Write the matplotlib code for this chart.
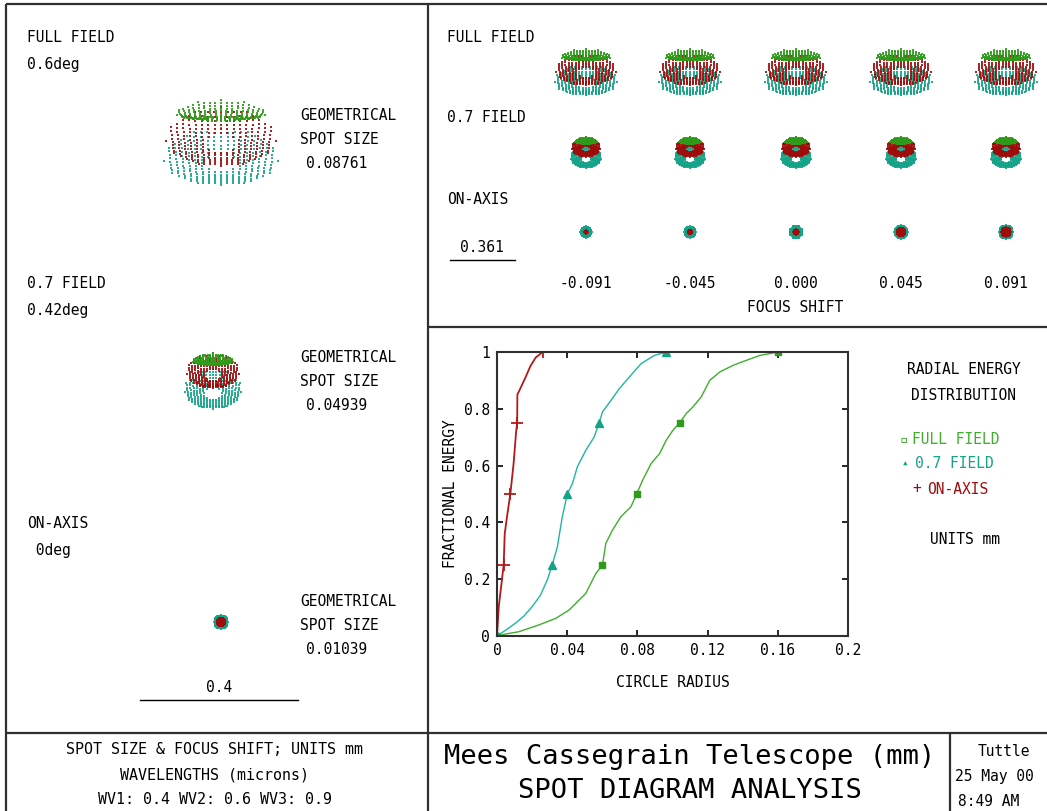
import matplotlib
matplotlib.use("Agg")
import matplotlib.pyplot as plt
import numpy as np

W, H = 1047, 811

# colours
C_GREEN = "#2e9c1a"
C_TEAL = "#14a387"
C_RED = "#a00c0c"
L_GREEN = "#3fae2a"
L_TEAL = "#22b4a4"
L_RED = "#b3191b"
FRAME = "#303030"
FONT = ["DejaVu Sans Mono", "DejaVu Sans"]

# ---- data ----
field_names = ["FULL FIELD", "0.7 FIELD", "ON-AXIS"]
field_angles = ["0.6deg", "0.42deg", " 0deg"]
spot_sizes = ["0.08761", "0.04939", "0.01039"]
focus_shift = ["-0.091", "-0.045", "0.000", "0.045", "0.091"]

# spot shape per field and wavelength: half width, half height, y offset, coma (mm)
full_green = [0.112, 0.020, 0.068, 0.010]
full_red = [0.138, 0.074, 0.002, 0.006]
full_teal = [0.144, 0.072, -0.048, 0.006]
mid_green = [0.050, 0.012, 0.046, 0.005]
mid_red = [0.066, 0.045, 0.016, 0.004]
mid_teal = [0.072, 0.050, -0.030, 0.004]
axis_green = [0.005, 0.005, 0.0, 0.0]
axis_red = [0.010, 0.010, 0.0, 0.0]
axis_teal = [0.018, 0.018, 0.0, 0.0]

# on-axis spot radii through focus (mm)
focus_axis_red = [0.007, 0.008, 0.012, 0.019, 0.021]
focus_axis_teal = [0.026, 0.028, 0.029, 0.031, 0.033]

# radial energy distribution
full_r = [0, 0.0048, 0.0124, 0.0239, 0.0334, 0.041, 0.0506, 0.0563, 0.0601, 0.062,
          0.0658, 0.0706, 0.0763, 0.0796, 0.083, 0.0878, 0.0926, 0.0964, 0.1002,
          0.104, 0.1078, 0.1117, 0.1164, 0.1212, 0.127, 0.1345, 0.1422, 0.1498, 0.1603]
full_e = [0, 0.007, 0.015, 0.039, 0.062, 0.091, 0.15, 0.22, 0.25, 0.326,
          0.373, 0.42, 0.455, 0.5, 0.549, 0.607, 0.642, 0.689, 0.724,
          0.75, 0.783, 0.807, 0.842, 0.9, 0.93, 0.953, 0.971, 0.988, 1.0]
mid_r = [0, 0.0048, 0.0105, 0.0153, 0.02, 0.0248, 0.0286, 0.0315, 0.0344, 0.0372,
         0.0401, 0.043, 0.0458, 0.0506, 0.0553, 0.0582, 0.0601, 0.065, 0.0697,
         0.0754, 0.0821, 0.0897, 0.0964]
mid_e = [0, 0.02, 0.045, 0.07, 0.103, 0.144, 0.197, 0.25, 0.314, 0.42,
         0.5, 0.537, 0.596, 0.654, 0.70, 0.75, 0.789, 0.83, 0.871,
         0.912, 0.959, 0.988, 1.0]
axis_r = [0, 0.001, 0.0038, 0.0044, 0.0057, 0.0076, 0.0095, 0.0109, 0.0115, 0.0116,
          0.0128, 0.0162, 0.019, 0.022, 0.026]
axis_e = [0, 0.103, 0.25, 0.36, 0.42, 0.5, 0.61, 0.72, 0.75, 0.85,
          0.865, 0.91, 0.95, 0.98, 1.0]

# pupil sampling: square grid inside the aperture, minus the central obscuration
g = np.linspace(-1, 1, 19)
px, py = np.meshgrid(g, g)
rr = np.hypot(px, py)
keep = (rr <= 1.0) & (rr >= 0.3)
px, py = px[keep], py[keep]


def spot(shape):
    a, b, dy, c = shape
    x = a * px + c * 2 * px * py
    cz = c * (px ** 2 + 3 * py ** 2)
    y = b * py + cz - cz.mean() + dy
    return x, y


def spot_axes(cx, cy, w, h, scale):
    ax = fig.add_axes([(cx - w / 2) / W, 1 - (cy + h / 2) / H, w / W, h / H])
    ax.set_xlim(-w / 2 / scale, w / 2 / scale)
    ax.set_ylim(-h / 2 / scale, h / 2 / scale)
    ax.axis("off")
    return ax


def draw_spot(ax, layers, s):
    # layers: list of (shape, colour) in drawing order
    for shape, col in layers:
        x, y = spot(shape)
        ax.scatter(x, y, s=s, marker="s", color=col, linewidths=0, alpha=0.9)


fig = plt.figure(figsize=(W / 100, H / 100), dpi=100)
fig.patch.set_facecolor("white")

ov = fig.add_axes([0, 0, 1, 1])
ov.set_xlim(0, W)
ov.set_ylim(H, 0)
ov.axis("off")

# frame
for (x0, x1, y0, y1) in [(6, W, 4, 4), (6, 6, 4, H), (428, 428, 4, H), (428, W, 327, 327),
                         (6, W, 733, 733), (950, 950, 733, H)]:
    ov.plot([x0, x1], [y0, y1], color=FRAME, lw=1.6, solid_capstyle="butt")

def txt(x, y, s, size=10.5, ha="left", color="black", **kw):
    ov.text(x, y, s, fontsize=size, ha=ha, va="center", color=color, family=FONT, **kw)

# ---- left panel: spots at best focus ----
left_layers = [[(full_teal, C_TEAL), (full_red, C_RED), (full_green, C_GREEN)],
               [(mid_teal, C_TEAL), (mid_red, C_RED), (mid_green, C_GREEN)],
               [(axis_teal, C_TEAL), (axis_green, C_GREEN), (axis_red, C_RED)]]
left_centers = [(221, 142), (213, 380), (221, 622)]
label_y = [37, 283, 523]
geo_y = [115, 357, 601]
for i in range(3):
    txt(27, label_y[i], field_names[i])
    txt(27, label_y[i] + 28, field_angles[i])
    txt(300, geo_y[i], "GEOMETRICAL")
    txt(300, geo_y[i] + 24, "SPOT SIZE")
    txt(337, geo_y[i] + 49, spot_sizes[i], ha="center")
    cx, cy = left_centers[i]
    draw_spot(spot_axes(cx, cy, 200, 160, 395), left_layers[i], 3.8)

ov.plot([140, 298], [700, 700], color="black", lw=1.0)
txt(219, 688, "0.4", ha="center")

# ---- top right: through focus ----
focus_x = [586, 690, 796, 901, 1006]
txt(447, 37, field_names[0])
txt(447, 118, field_names[1])
txt(447, 200, field_names[2])
for j, fx in enumerate(focus_x):
    draw_spot(spot_axes(fx, 72, 100, 60, 215), left_layers[0], 1.9)
    draw_spot(spot_axes(fx, 152, 80, 50, 215), left_layers[1], 1.9)
    ar = focus_axis_red[j]
    at = focus_axis_teal[j]
    draw_spot(spot_axes(fx, 232, 40, 40, 215),
              [([at, at, 0, 0], C_TEAL), ([ar * 0.5, ar * 0.5, 0, 0], C_GREEN),
               ([ar, ar, 0, 0], C_RED)], 1.9)
    txt(fx, 283, focus_shift[j], ha="center")
txt(795, 308, "FOCUS SHIFT", ha="center")
ov.plot([450, 515], [260, 260], color="black", lw=1.0)
txt(482, 248, "0.361", ha="center")

# ---- radial energy distribution ----
ea = fig.add_axes([497 / W, 1 - 636 / H, (848 - 497) / W, (636 - 352) / H])
ea.plot(full_r, full_e, color=L_GREEN, lw=1.0, marker="s", ms=4.5,
        markevery=[0, 8, 13, 19, 28], mfc=C_GREEN, mec=C_GREEN)
ea.plot(mid_r, mid_e, color=L_TEAL, lw=1.0, marker="^", ms=5.5,
        markevery=[0, 7, 10, 15, 22], mfc=C_TEAL, mec=C_TEAL)
ea.plot(axis_r, axis_e, color=L_RED, lw=1.3, marker="+", ms=8, mew=1.3,
        markevery=[0, 2, 5, 8, 14])
ea.set_xlim(0, 0.2)
ea.set_ylim(0, 1)
ea.set_xticks([0, 0.04, 0.08, 0.12, 0.16, 0.2])
ea.set_xticklabels(["0", "0.04", "0.08", "0.12", "0.16", "0.2"])
ea.set_yticks([0, 0.2, 0.4, 0.6, 0.8, 1])
ea.set_yticklabels(["0", "0.2", "0.4", "0.6", "0.8", "1"])
ea.tick_params(direction="in", length=4, width=1.2, top=True, right=True,
               labelsize=10.5, pad=5)
for lab in ea.get_xticklabels() + ea.get_yticklabels():
    lab.set_family(FONT)
for sp in ea.spines.values():
    sp.set_linewidth(1.5)
    sp.set_color(FRAME)
ea.set_xlabel("CIRCLE RADIUS", fontsize=10.5, family=FONT, labelpad=12)
ea.set_ylabel("FRACTIONAL ENERGY", fontsize=10.5, family=FONT, labelpad=4)

txt(964, 370, "RADIAL ENERGY", ha="center")
txt(964, 395, "DISTRIBUTION", ha="center")
txt(900, 440, "\u25ab", color=C_GREEN, size=10)
txt(912, 440, "FULL FIELD", color=L_GREEN)
txt(902, 464, "\u25b4", color=C_TEAL, size=8)
txt(915, 464, "0.7 FIELD", color=C_TEAL)
txt(912, 489, "+", color=C_RED)
txt(927, 489, "ON-AXIS", color=C_RED)
txt(965, 539, "UNITS mm", ha="center")

# ---- title block ----
txt(215, 750, "SPOT SIZE & FOCUS SHIFT; UNITS mm", ha="center", size=10.8)
txt(215, 775, "WAVELENGTHS (microns)", ha="center", size=10.8)
txt(215, 800, "WV1: 0.4 WV2: 0.6 WV3: 0.9", ha="center", size=10.8)
txt(690, 757, "Mees Cassegrain Telescope (mm)", ha="center", size=19.5)
txt(690, 791, "SPOT DIAGRAM ANALYSIS", ha="center", size=19.5)
txt(978, 752, "Tuttle", size=10.5)
txt(955, 777, "25 May 00", size=10.5)
txt(958, 802, "8:49 AM", size=10.5)

fig.savefig("out.png", dpi=100, facecolor="white")
